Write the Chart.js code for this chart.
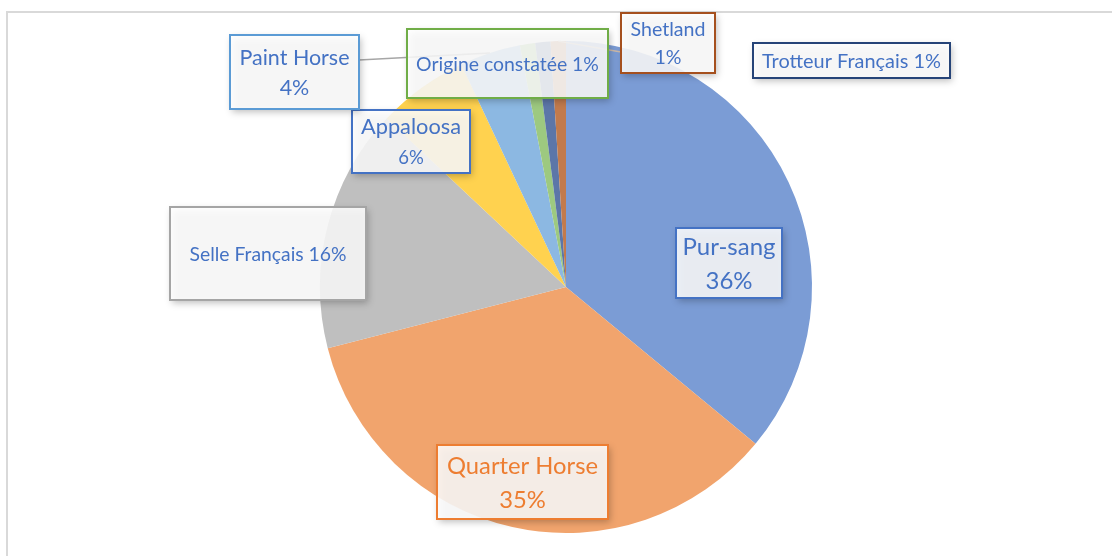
<!DOCTYPE html>
<html>
<head>
<meta charset="utf-8">
<script src="https://cdn.jsdelivr.net/npm/chart.js@4"></script>
<style>
  html, body { margin: 0; padding: 0; background: #fff; }
  #wrap { position: relative; width: 1112px; height: 556px; overflow: hidden; }
  #frame { position: absolute; left: 6px; top: 11px; right: 0; bottom: 0;
           border-top: 2px solid #d9d9d9; border-left: 2px solid #d9d9d9; }
  #myChart { position: absolute; left: 0; top: 0; }
</style>
</head>
<body>
<div id="wrap">
  <div id="frame"></div>
  <canvas id="myChart" width="1112" height="556"></canvas>
</div>
<script>
// breeds, clockwise from 12 o'clock
const categories = ['Pur-sang', 'Quarter Horse', 'Selle Français', 'Appaloosa',
                    'Paint Horse', 'Origine constatée', 'Trotteur Français', 'Shetland'];
const shares = [36, 35, 16, 6, 4, 1, 1, 1]; // percent

const sliceColors = ['#7b9cd5', '#f1a46d', '#bfbfbf', '#ffd24f',
                     '#8cb8e2', '#9dc980', '#5c76a8', '#c27a4c'];

// data label boxes: left, top, width, height, border colour, text colour,
// target width of first text line (px), two lines or one
const labelBoxes = [
    { x: 676, y: 228, w: 106, h: 70, border: '#4472c4', color: '#4472c4', tw: 93,  split: true },
    { x: 437, y: 445, w: 171, h: 74, border: '#ed7d31', color: '#ed7d31', tw: 151, split: true },
    { x: 170, y: 207, w: 196, h: 93, border: '#a5a5a5', color: '#4472c4', tw: 157, split: false },
    { x: 352, y: 110, w: 118, h: 63, border: '#4472c4', color: '#4472c4', tw: 100, split: true, second: 0.85 },
    { x: 230, y: 35,  w: 129, h: 74, border: '#5b9bd5', color: '#4472c4', tw: 110, split: true },
    { x: 407, y: 29,  w: 201, h: 69, border: '#70ad47', color: '#4472c4', tw: 183, split: false },
    { x: 753, y: 43,  w: 197, h: 35, border: '#264478', color: '#4472c4', tw: 179, split: false },
    { x: 621, y: 13,  w: 94,  h: 60, border: '#a5501e', color: '#4472c4', tw: 75,  split: true }
];

// leader lines: slice index -> point on the box it joins
const leaders = [
    { i: 4, bx: 359, by: 60, color: '#a6a6a6' },
    { i: 7, bx: 621, by: 52, color: '#cdb9a8' }
];

const FONT = 'Lato, "Open Sans", sans-serif';

const labelPlugin = {
    id: 'labelBoxes',
    afterDatasetsDraw(chart) {
        const ctx = chart.ctx;
        const arcs = chart.getDatasetMeta(0).data;

        // leader lines first, boxes cover them
        leaders.forEach(l => {
            const a = arcs[l.i];
            const mid = (a.startAngle + a.endAngle) / 2;
            const px = a.x + Math.cos(mid) * a.outerRadius;
            const py = a.y + Math.sin(mid) * a.outerRadius;
            ctx.save();
            ctx.strokeStyle = l.color;
            ctx.lineWidth = 1.5;
            ctx.beginPath();
            ctx.moveTo(l.bx, l.by);
            ctx.lineTo(px, py);
            ctx.stroke();
            ctx.restore();
        });

        labelBoxes.forEach((b, i) => {
            ctx.save();
            ctx.shadowColor = 'rgba(0,0,0,0.3)';
            ctx.shadowBlur = 7;
            ctx.shadowOffsetX = 2;
            ctx.shadowOffsetY = 3;
            ctx.fillStyle = 'rgba(255,255,255,0.86)';
            ctx.fillRect(b.x, b.y, b.w, b.h);
            ctx.restore();

            ctx.save();
            ctx.strokeStyle = b.border;
            ctx.lineWidth = 2;
            ctx.strokeRect(b.x, b.y, b.w, b.h);

            const lines = b.split
                ? [categories[i], shares[i] + '%']
                : [categories[i] + ' ' + shares[i] + '%'];
            ctx.font = '20px ' + FONT;
            const size = 20 * b.tw / ctx.measureText(lines[0]).width;
            const sizes = lines.map((t, k) => k === 0 ? size : size * (b.second || 1));
            const lh = size * 1.42;
            const cx = b.x + b.w / 2;
            const cy = b.y + b.h / 2;
            ctx.fillStyle = b.color;
            ctx.textAlign = 'center';
            ctx.textBaseline = 'middle';
            lines.forEach((t, k) => {
                ctx.font = sizes[k].toFixed(2) + 'px ' + FONT;
                const y = cy + (k - (lines.length - 1) / 2) * lh;
                ctx.fillText(t, cx, y + 1);
            });
            ctx.restore();
        });
    }
};

const ctx = document.getElementById('myChart').getContext('2d');

const horseChart = new Chart(ctx, {
    type: 'pie',
    data: {
        labels: categories,
        datasets: [{
            data: shares,
            backgroundColor: sliceColors,
            borderWidth: 0
        }]
    },
    options: {
        responsive: false,
        animation: false,
        layout: { padding: { top: 41, bottom: 23, left: 320, right: 300 } },
        plugins: {
            legend: { display: false },
            tooltip: { enabled: false }
        }
    },
    plugins: [labelPlugin]
});
</script>
</body>
</html>
